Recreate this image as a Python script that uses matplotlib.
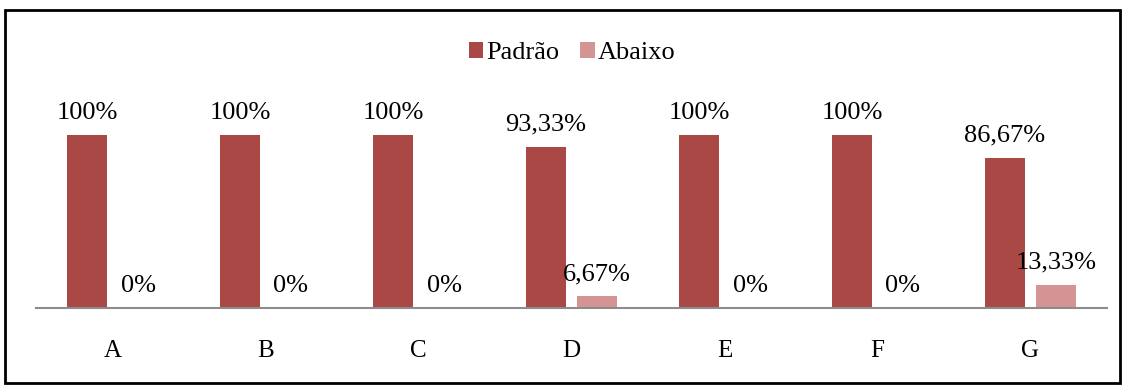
import numpy as np
import matplotlib
matplotlib.use('Agg')
import matplotlib.pyplot as plt
from matplotlib.patches import Rectangle

# data
categorias = ['A', 'B', 'C', 'D', 'E', 'F', 'G']
padrao = [100, 100, 100, 93.33, 100, 100, 86.67]
abaixo = [0, 0, 0, 6.67, 0, 0, 13.33]
rotulo_padrao = ['100%', '100%', '100%', '93,33%', '100%', '100%', '86,67%']
rotulo_abaixo = ['0%', '0%', '0%', '6,67%', '0%', '0%', '13,33%']

cor_padrao = '#A94845'
cor_abaixo = '#D59494'

plt.rcParams['font.family'] = ['Liberation Serif', 'DejaVu Serif']

fig = plt.figure(figsize=(11.25, 3.87), dpi=100)
ax = fig.add_axes([36 / 1125, 79 / 387, 1071 / 1125, 207.6 / 387])

x = np.arange(len(categorias))
larg = 40 / 153
desl = 25.5 / 153

b1 = ax.bar(x - desl, padrao, larg, color=cor_padrao, label='Padrão')
b2 = ax.bar(x + desl, abaixo, larg, color=cor_abaixo, label='Abaixo')

for barra, txt in zip(b1, rotulo_padrao):
    ax.annotate(txt, (barra.get_x() + barra.get_width() / 2, barra.get_height()),
                xytext=(0, 8), textcoords='offset points', ha='center', va='bottom',
                fontsize=19)
for barra, txt in zip(b2, rotulo_abaixo):
    ax.annotate(txt, (barra.get_x() + barra.get_width() / 2, barra.get_height()),
                xytext=(0, 8), textcoords='offset points', ha='center', va='bottom',
                fontsize=19)

ax.set_xlim(-0.5, len(categorias) - 0.5)
ax.set_ylim(0, 120)
ax.set_xticks(x)
ax.set_xticklabels(categorias, fontsize=18)
ax.tick_params(axis='x', length=0, pad=23)
ax.set_yticks([])
for lado in ['top', 'right', 'left']:
    ax.spines[lado].set_visible(False)
ax.spines['bottom'].set_color('#8C8C8C')
ax.spines['bottom'].set_linewidth(1.5)

fig.legend(loc='center', bbox_to_anchor=(572 / 1125, 1 - 53 / 387), ncol=2, frameon=False,
           fontsize=19, handlelength=0.55, handleheight=0.55, handletextpad=0.1,
           columnspacing=0.8)

# moldura em volta do grafico
fig.patches.append(Rectangle((5 / 1125, 4 / 387), 1115 / 1125, 373 / 387,
                             transform=fig.transFigure, fill=False,
                             edgecolor='black', linewidth=2))

fig.savefig('out.png', dpi=100)
